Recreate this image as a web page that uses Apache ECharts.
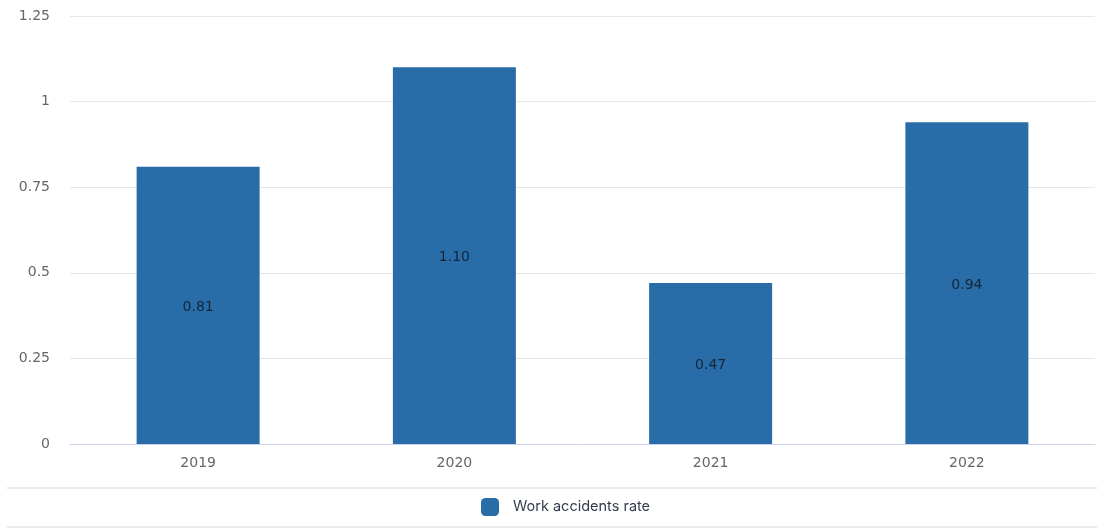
<!DOCTYPE html>
<html>
<head>
<meta charset="utf-8">
<script src="https://cdn.jsdelivr.net/npm/echarts@6/dist/echarts.min.js"></script>
<style>
  html, body { margin: 0; padding: 0; background: #fff; }
  #chart { width: 1097px; height: 529px; }
</style>
</head>
<body>
<div id="chart"></div>
<script>
// Yearly work accidents rate
const years = ['2019', '2020', '2021', '2022'];
const rates = [0.81, 1.10, 0.47, 0.94];
const yTicks = [0, 0.25, 0.5, 0.75, 1, 1.25];
const seriesName = 'Work accidents rate';

const chart = echarts.init(document.getElementById('chart'), null, { renderer: 'canvas' });

chart.setOption({
  animation: false,
  backgroundColor: '#ffffff',
  grid: { left: 70, right: 2, top: 16, bottom: 85, containLabel: false },
  xAxis: {
    type: 'category',
    data: years,
    axisLine: { lineStyle: { color: '#ccd6eb', width: 1 } },
    axisTick: { alignWithLabel: true, length: 10, lineStyle: { color: '#ccd6eb' } },
    axisLabel: { color: '#666666', fontSize: 14, fontFamily: 'DejaVu Sans', margin: 12 }
  },
  yAxis: {
    type: 'value',
    min: yTicks[0],
    max: yTicks[yTicks.length - 1],
    interval: 0.25,
    axisLine: { show: false },
    axisTick: { show: false },
    axisLabel: {
      color: '#666666', fontSize: 14, fontFamily: 'DejaVu Sans', margin: 20,
      formatter: v => String(v)
    },
    splitLine: { lineStyle: { color: '#e6e6e6', width: 1 } }
  },
  legend: {
    data: [seriesName],
    left: 481,
    top: 498,
    padding: 0,
    itemWidth: 18,
    itemHeight: 18,
    itemGap: 10,
    icon: 'roundRect',
    textStyle: { color: '#333d4d', fontSize: 14.5, fontFamily: 'Inter', padding: [0, 0, 0, 9] }
  },
  graphic: [
    { type: 'line', shape: { x1: 7, y1: 488, x2: 1097, y2: 488 }, style: { stroke: '#e3e3e3', lineWidth: 1.5 } },
    { type: 'line', shape: { x1: 7, y1: 527, x2: 1097, y2: 527 }, style: { stroke: '#e3e3e3', lineWidth: 1.5 } }
  ],
  series: [{
    name: seriesName,
    type: 'bar',
    data: rates,
    barWidth: '48%',
    itemStyle: { color: '#286da8' },
    label: {
      show: true,
      position: 'inside',
      offset: [0, 2],
      color: '#13263a',
      fontSize: 14,
      fontFamily: 'DejaVu Sans',
      formatter: p => p.value.toFixed(2)
    }
  }]
});
</script>
</body>
</html>
